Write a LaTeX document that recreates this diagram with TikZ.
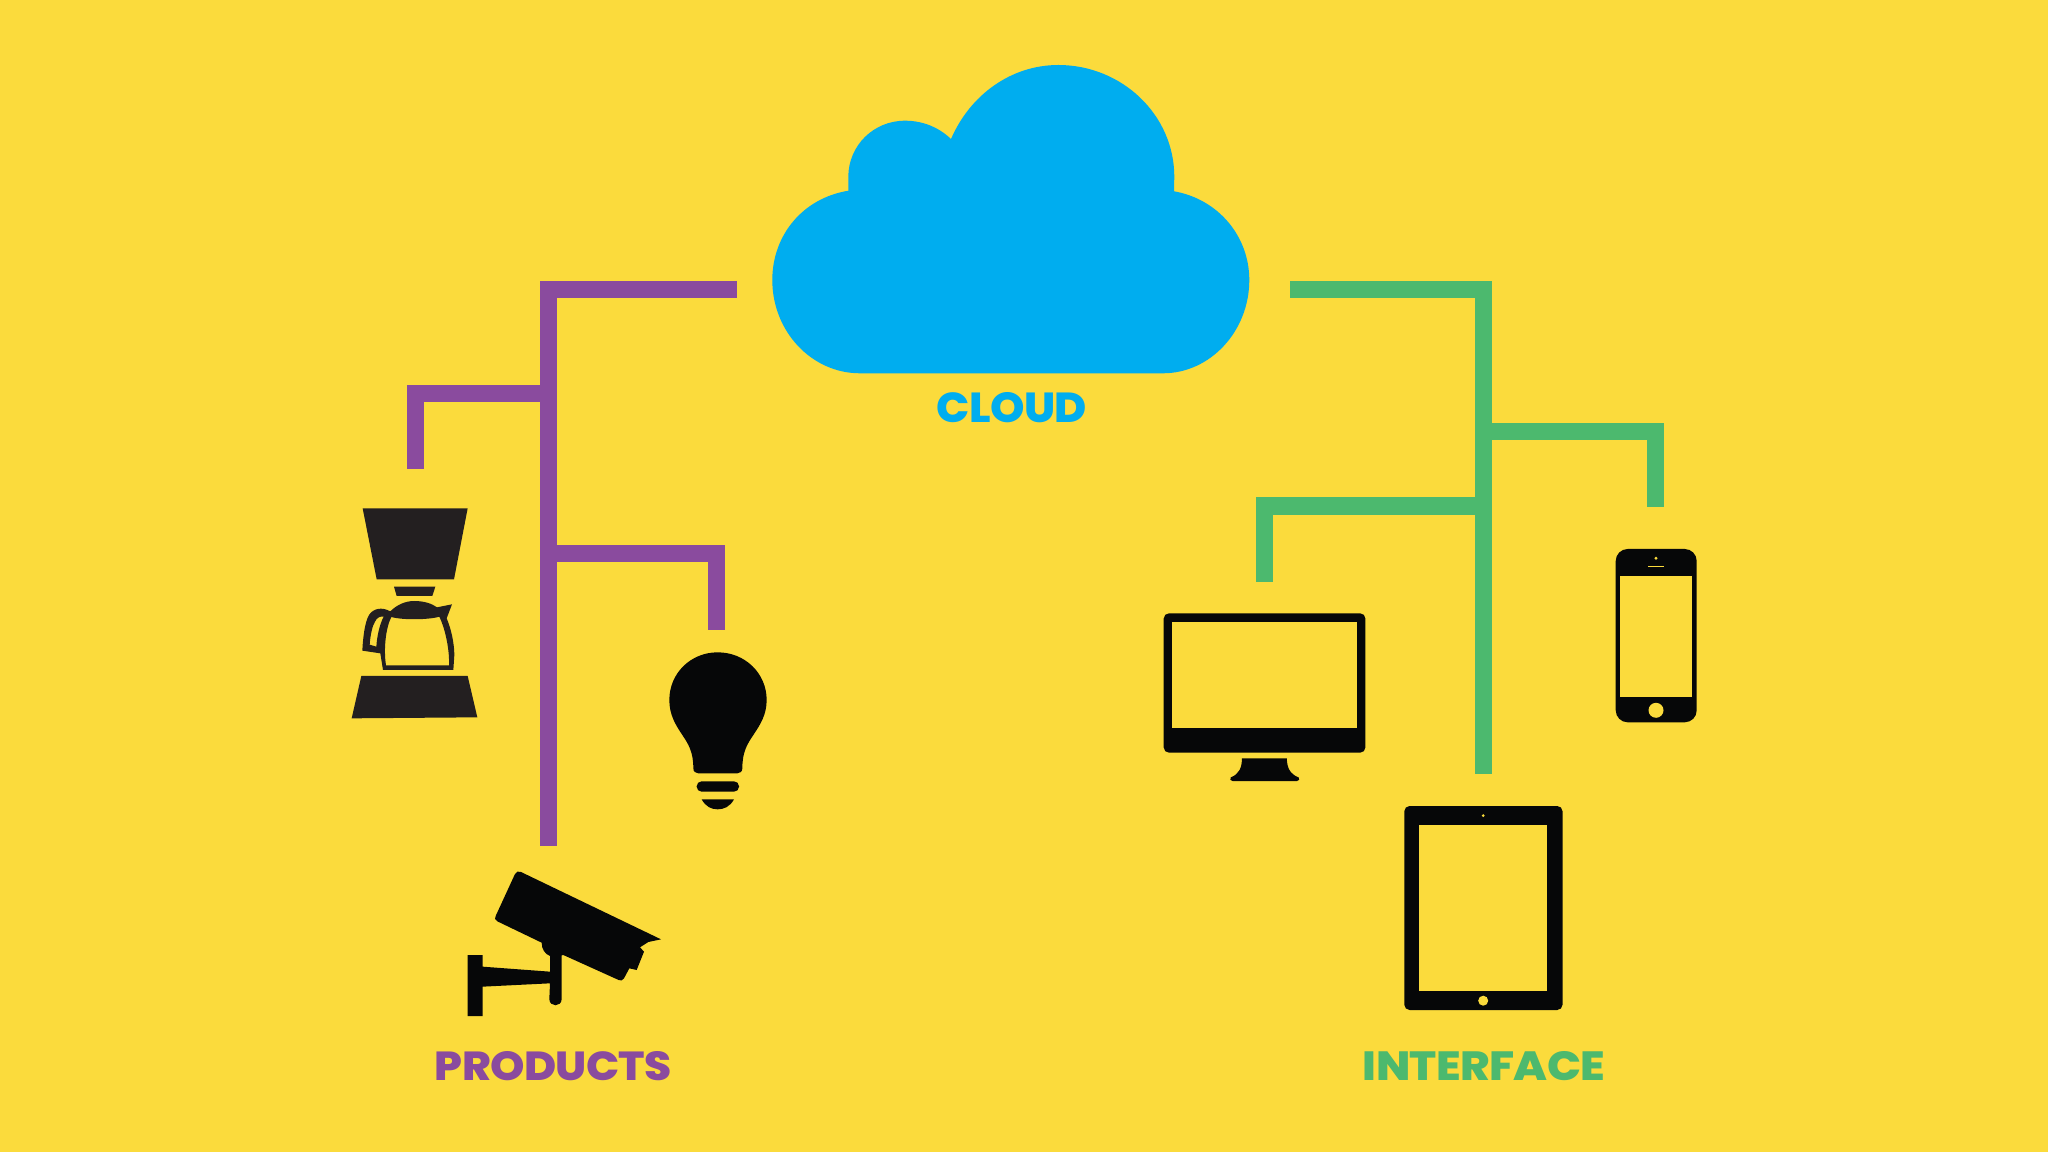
\documentclass[tikz,border=0pt]{standalone}
\usepackage{fontspec}
\newfontfamily\labelfont{Poppins ExtraBold}[LetterSpace=-1.5]
\definecolor{bgyellow}{HTML}{FBDB3C}
\definecolor{cloudblue}{HTML}{00ADEF}
\definecolor{prodpurple}{HTML}{8A4B9E}
\definecolor{ifacegreen}{HTML}{4CB96E}
\definecolor{ink}{HTML}{060708}
\definecolor{softink}{HTML}{231F20}
\tikzset{
  prodline/.style={draw=prodpurple,line width=1.7mm},
  ifaceline/.style={draw=ifacegreen,line width=1.7mm},
  caption/.style={inner sep=0pt,outer sep=0pt,font=\labelfont},
  icon/.style={fill=ink},
  zoomed/.style={scale=1/3},
}
\begin{document}
\begin{tikzpicture}[x=0.01cm,y=-0.01cm]
\useasboundingbox (0,0) rectangle (2048,1152);
\fill[bgyellow] (0,0) rectangle (2048,1152);

% cloud
\fill[cloudblue] (860,373.3) .. controls (811.6,373.3) and (772.3,331.5) .. (772.3,280)
  .. controls (772.3,235) and (803,198) .. (848.5,190.7)
  -- (848.3,177)
  .. controls (848.3,145.6) and (873.5,120.7) .. (905,120.7)
  .. controls (923,120.7) and (939,127.5) .. (951,139)
  .. controls (970,95) and (1011,65) .. (1058.3,65)
  .. controls (1122,65) and (1174.3,115) .. (1174.3,176.7)
  -- (1174,191.3)
  .. controls (1218,199) and (1249.3,236) .. (1249.3,280)
  .. controls (1249.3,331.5) and (1210,373.3) .. (1163,373.3)
  -- cycle;

% connector ends
\coordinate (cloudL) at (736.7,289.8);
\coordinate (cloudR) at (1290,289.8);
\coordinate (cameraTop) at (548.3,846);
\coordinate (coffeeJoin) at (548.3,393.6);
\coordinate (coffeeTop) at (415.2,469.3);
\coordinate (bulbJoin) at (548.3,553.6);
\coordinate (bulbTop) at (716.8,629.7);
\coordinate (tabletTop) at (1483.8,774);
\coordinate (phoneJoin) at (1483.8,431.2);
\coordinate (phoneTop) at (1655.7,507);
\coordinate (monitorJoin) at (1483.8,506);
\coordinate (monitorTop) at (1264.7,582.3);

% connectors
\draw[prodline] (cloudL) -| (cameraTop);
\draw[prodline] (coffeeJoin) -| (coffeeTop);
\draw[prodline] (bulbJoin) -| (bulbTop);
\draw[ifaceline] (cloudR) -| (tabletTop);
\draw[ifaceline] (phoneJoin) -| (phoneTop);
\draw[ifaceline] (monitorJoin) -| (monitorTop);

% coffee maker
\begin{scope}[shift={(330,480)},zoomed]
  \fill[softink] (98,85) -- (413,85) -- (372,298) -- (140,298) -- cycle;
  \fill[softink] (192,320) -- (316,320) -- (307,348) -- (200,348) -- cycle;
  \fill[softink] (94,588) -- (413,588) -- (442,712) -- (65,715) -- cycle;
\end{scope}
\begin{scope}[shift={(355,590)},zoomed]
  \fill[softink,even odd rule]
    (22,182) .. controls (24,140) and (30,95) .. (42,75)
    .. controls (55,55) and (80,50) .. (106,64)
    .. controls (125,45) and (150,33) .. (178,33)
    .. controls (205,33) and (230,40) .. (246,52)
    -- (291,43) -- (275,85)
    .. controls (288,115) and (298,160) .. (298,195)
    -- (295,240) -- (84,240) -- (76,190) -- cycle
    (44,164) .. controls (46,135) and (52,108) .. (60,95)
    .. controls (66,82) and (76,78) .. (86,80)
    .. controls (73,105) and (66,140) .. (64,170) -- cycle
    (93,226) -- (282,226)
    .. controls (284,185) and (273,122) .. (253,80)
    .. controls (230,88) and (150,92) .. (109,81)
    .. controls (93,112) and (85,175) .. (93,226) -- cycle;
\end{scope}

% light bulb
\begin{scope}[shift={(650,640)},zoomed]
  \fill[icon] (203,37) .. controls (285,37) and (350,100) .. (350,180)
    .. controls (350,225) and (330,255) .. (310,285)
    .. controls (292,312) and (277,335) .. (277,385)
    .. controls (277,395) and (270,400) .. (262,400)
    -- (145,400)
    .. controls (137,400) and (130,395) .. (130,385)
    .. controls (130,335) and (115,312) .. (97,285)
    .. controls (77,255) and (58,225) .. (58,180)
    .. controls (58,100) and (122,37) .. (203,37) -- cycle;
  \fill[icon,rounded corners=1.4pt] (140,424) rectangle (267,455);
  \fill[icon] (155,478) -- (252,478) .. controls (240,500) and (222,508) .. (203,508)
    .. controls (184,508) and (167,500) .. (155,478) -- cycle;
\end{scope}

% security camera
\begin{scope}[shift={(440,850)},zoomed]
  \fill[icon] (83,315) -- (128,315) -- (128,350) -- (330,365)
    -- (330,318) .. controls (315,312) and (305,298) .. (305,278)
    -- (172,214) .. controls (164,210) and (163,204) .. (167,198)
    -- (225,72) .. controls (228,65) and (235,62) .. (243,66)
    -- (663,268) -- (625,276) -- (600,292) -- (612,305) -- (590,360) -- (568,355)
    -- (552,385) .. controls (548,392) and (543,393) .. (536,390)
    -- (370,315) -- (365,316) -- (365,447)
    .. controls (365,472) and (328,472) .. (328,447)
    -- (330,400) -- (128,410) -- (128,498) -- (83,498) -- cycle;
\end{scope}

% monitor
\fill[icon,rounded corners=1.5pt] (1163.7,613.3) rectangle (1365.4,752.7);
\fill[bgyellow] (1172,621.7) rectangle (1357.3,728);
\fill[icon] (1241.9,758.3) -- (1286.8,758.3)
  .. controls (1287,768) and (1290,774) .. (1298.7,777.5)
  .. controls (1299.5,779) and (1299.5,781) .. (1297,781)
  -- (1232.5,781)
  .. controls (1230,781) and (1230,779) .. (1230.7,777.5)
  .. controls (1239,774) and (1242,768) .. (1241.9,758.3) -- cycle;

% tablet
\fill[icon,rounded corners=1.5pt] (1404.3,806) rectangle (1562.5,1010);
\fill[bgyellow] (1419.4,825) rectangle (1547.4,991);
\fill[bgyellow] (1483.2,815.7) circle[radius=1.5];
\fill[bgyellow] (1483.2,1000.7) circle[radius=5];

% phone
\fill[icon,rounded corners=3.4pt] (1615.7,549) rectangle (1696.7,722.3);
\fill[bgyellow] (1620.3,576) rectangle (1691.7,696.7);
\fill[bgyellow] (1656,558.3) circle[radius=1.6];
\fill[bgyellow] (1648.3,565.6) rectangle (1663.7,567);
\fill[bgyellow] (1656,710.3) circle[radius=7.5];

% labels
\node[caption,text=cloudblue] (cloudLabel) at (1012,408) {\resizebox{15mm}{3mm}{CLOUD}};
\node[caption,text=prodpurple] (productsLabel) at (553.3,1066) {\resizebox{23.67mm}{2.9mm}{PRODUCTS}};
\node[caption,text=ifacegreen] (interfaceLabel) at (1484,1066) {\resizebox{24.2mm}{2.9mm}{INTERFACE}};
\end{tikzpicture}
\end{document}
